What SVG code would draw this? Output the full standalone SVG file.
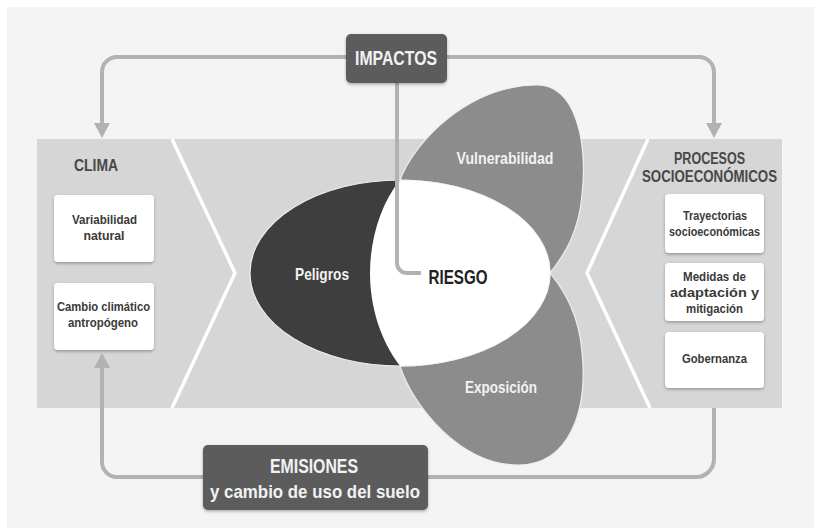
<svg xmlns="http://www.w3.org/2000/svg" width="814" height="528" viewBox="0 0 814 528">
<defs>
<style>
.t{font-family:"Liberation Sans",Arial,sans-serif;font-weight:bold;text-anchor:middle}
.box{fill:#ffffff}
.bt{font-size:13.5px;fill:#3a3a3a}
.dark{fill:#5c5c5c}
.wt{fill:#f2f2f2}
.conn{fill:none;stroke:#b2b2b2;stroke-width:4}
.chev{fill:none;stroke:#ffffff;stroke-width:3.5}
.petal{fill:#8c8c8c;stroke:#eeeeee;stroke-width:1.2}
</style>
<filter id="sh" x="-20%" y="-20%" width="140%" height="150%">
<feDropShadow dx="0" dy="1.5" stdDeviation="1.5" flood-color="#000" flood-opacity="0.3"/>
</filter>
<marker id="ah" markerUnits="userSpaceOnUse" markerWidth="16" markerHeight="16" viewBox="0 0 16 16" refX="0" refY="8" orient="auto">
<path d="M0,0 L15,8 L0,16 Z" fill="#b2b2b2"/>
</marker>
</defs>
<rect x="0" y="0" width="814" height="528" fill="#ffffff"/>
<rect x="7" y="7" width="807" height="521" fill="#f4f4f4"/>
<g id="band">
<rect x="37" y="139" width="745" height="269" fill="#d6d6d6"/>
<polyline class="chev" points="172,139 235,273 172,408"/>
<polyline class="chev" points="648,139 587,273 650,408"/>
</g>
<g id="riesgo-diagram">
<path id="vulnerabilidad" class="petal" d="M400,180 C415,140 470,85 537,85 C575,85 588,140 582,195 C579,230 566,253 550,273 A150,93 0 0 0 400,180 Z"/>
<path id="exposicion" class="petal" d="M400,366 C412,405 460,465 518,465 C570,465 588,410 582,352 C579,316 566,293 550,273 A150,93 0 0 1 400,366 Z"/>
<ellipse id="peligros" cx="400" cy="273" rx="150" ry="93" fill="#3e3e3e" stroke="#eeeeee" stroke-width="1.2"/>
<path id="riesgo" d="M400,180 C380,205 370,240 370,273 C370,306 380,340 400,366 A150,93 0 0 0 550,273 A150,93 0 0 0 400,180 Z" fill="#ffffff"/>
<text class="t wt" x="322" y="280" font-size="17" textLength="54" lengthAdjust="spacingAndGlyphs">Peligros</text>
<text class="t wt" x="505" y="164" font-size="16.5" textLength="97" lengthAdjust="spacingAndGlyphs">Vulnerabilidad</text>
<text class="t wt" x="501" y="393" font-size="16.5" textLength="72" lengthAdjust="spacingAndGlyphs">Exposición</text>
</g>
<g id="connectors">
<path class="conn" d="M346,57 H117 A15,15 0 0 0 102,72 V123" marker-end="url(#ah)"/>
<path class="conn" d="M447,57 H699 A15,15 0 0 1 714,72 V123" marker-end="url(#ah)"/>
<path class="conn" d="M397,83 V263 A10,10 0 0 0 407,273 H421"/>
<path class="conn" d="M714,408 V459 A18,18 0 0 1 696,477 H117 A15,15 0 0 1 102,462 V368" marker-end="url(#ah)"/>
</g>
<text id="riesgo-label" class="t" x="458" y="284" font-size="19.5" fill="#222222" textLength="59" lengthAdjust="spacingAndGlyphs">RIESGO</text>
<g id="impactos">
<rect class="dark" x="346" y="34" width="101" height="49" rx="5" filter="url(#sh)"/>
<text class="t wt" x="396" y="65" font-size="20.5" textLength="82" lengthAdjust="spacingAndGlyphs">IMPACTOS</text>
</g>
<g id="clima">
<text class="t" x="96" y="171" font-size="16.5" fill="#484848" textLength="44" lengthAdjust="spacingAndGlyphs">CLIMA</text>
</g>
<g id="variabilidad">
<rect class="box" x="54" y="195" width="100" height="67" rx="4" filter="url(#sh)"/>
<text class="t bt" x="104.5" y="224" textLength="65" lengthAdjust="spacingAndGlyphs">Variabilidad</text>
<text class="t bt" x="104" y="240" textLength="41" lengthAdjust="spacingAndGlyphs">natural</text>
</g>
<g id="cambio">
<rect class="box" x="54" y="283" width="100" height="67" rx="4" filter="url(#sh)"/>
<text class="t bt" x="103.5" y="311" textLength="93" lengthAdjust="spacingAndGlyphs">Cambio climático</text>
<text class="t bt" x="103" y="327" textLength="70" lengthAdjust="spacingAndGlyphs">antropógeno</text>
</g>
<g id="procesos">
<text class="t" x="709.5" y="164" font-size="16" fill="#484848" textLength="71" lengthAdjust="spacingAndGlyphs">PROCESOS</text>
<text class="t" x="709.5" y="182" font-size="16" fill="#484848" textLength="135" lengthAdjust="spacingAndGlyphs">SOCIOECONÓMICOS</text>
</g>
<g id="trayectorias">
<rect class="box" x="665" y="194" width="99" height="59" rx="4" filter="url(#sh)"/>
<text class="t bt" x="715" y="220" textLength="64" lengthAdjust="spacingAndGlyphs">Trayectorias</text>
<text class="t bt" x="714.5" y="236" textLength="91" lengthAdjust="spacingAndGlyphs">socioeconómicas</text>
</g>
<g id="medidas">
<rect class="box" x="665" y="263" width="99" height="58" rx="4" filter="url(#sh)"/>
<text class="t bt" x="714.5" y="281" textLength="63" lengthAdjust="spacingAndGlyphs">Medidas de</text>
<text class="t bt" x="714.5" y="297" textLength="89" lengthAdjust="spacingAndGlyphs">adaptación y</text>
<text class="t bt" x="714.5" y="313" textLength="57" lengthAdjust="spacingAndGlyphs">mitigación</text>
</g>
<g id="gobernanza">
<rect class="box" x="665" y="332" width="99" height="56" rx="4" filter="url(#sh)"/>
<text class="t bt" x="714.5" y="363" textLength="65" lengthAdjust="spacingAndGlyphs">Gobernanza</text>
</g>
<g id="emisiones">
<rect class="dark" x="203" y="445" width="225" height="65" rx="5" filter="url(#sh)"/>
<text class="t wt" x="314" y="473" font-size="19.5" textLength="88" lengthAdjust="spacingAndGlyphs">EMISIONES</text>
<text class="t wt" x="315" y="498" font-size="19" textLength="210" lengthAdjust="spacingAndGlyphs">y cambio de uso del suelo</text>
</g>
</svg>
